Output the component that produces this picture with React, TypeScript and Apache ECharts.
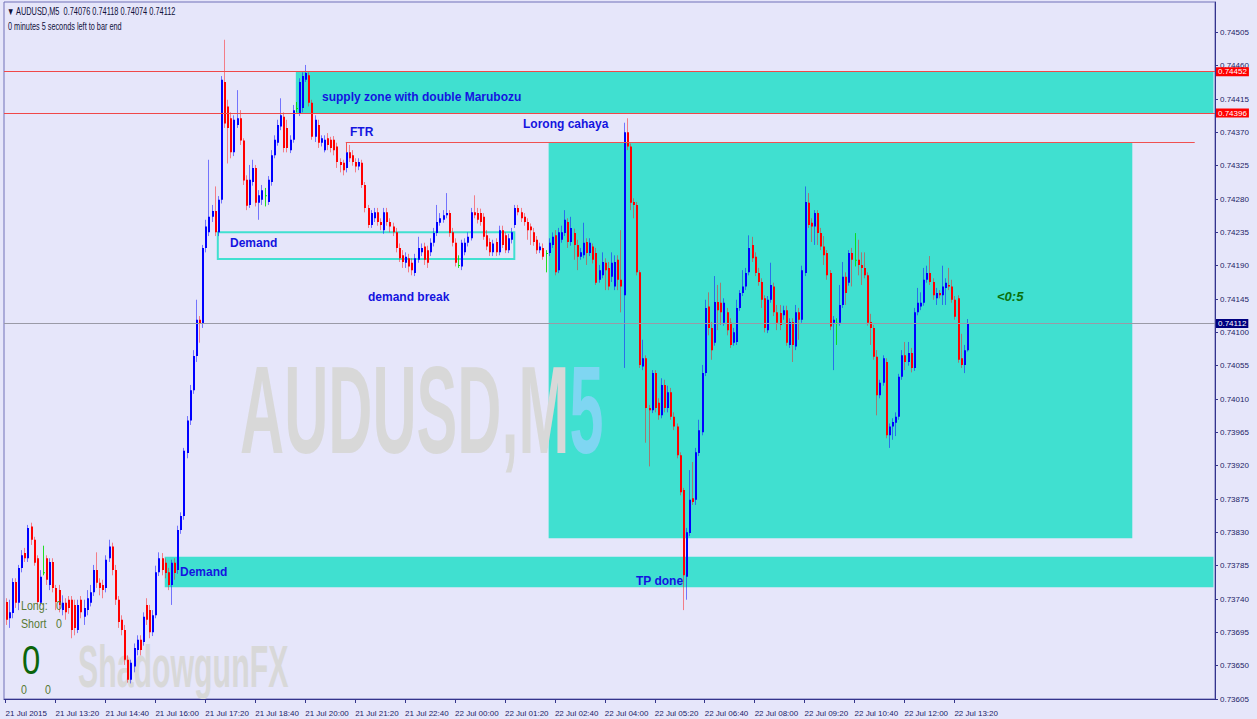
import React, { useEffect, useRef } from 'react';
import * as echarts from 'echarts';

// ---------- data ----------
const tickLabels = [
  '21 Jul 2015', '21 Jul 13:20', '21 Jul 14:40', '21 Jul 16:00', '21 Jul 17:20',
  '21 Jul 18:40', '21 Jul 20:00', '21 Jul 21:20', '21 Jul 22:40', '22 Jul 00:00',
  '22 Jul 01:20', '22 Jul 02:40', '22 Jul 04:00', '22 Jul 05:20', '22 Jul 06:40',
  '22 Jul 08:00', '22 Jul 09:20', '22 Jul 10:40', '22 Jul 12:00', '22 Jul 13:20',
];

// AUDUSD M5 bars in points (1e-5): [open, close, low, high]
const bars_21_1200 = [
  [73736,73712,73705,73741],[73714,73722,73701,73739],[73721,73763,73714,73768],[73763,73735,73728,73768],
  [73735,73782,73725,73786],[73782,73799,73776,73806],[73802,73795,73790,73809],[73795,73836,73790,73840],
  [73838,73820,73813,73843],[73820,73789,73785,73824],[73795,73736,73732,73799],[73735,73770,73731,73779],
  [73776,73776,73772,73812],[73795,73766,73759,73799],[73759,73790,73752,73795],[73790,73755,73749,73795],
  [73755,73736,73725,73759],[73752,73732,73722,73759],[73725,73735,73718,73745],[73735,73722,73712,73741],
  [73739,73728,73720,73744],[73739,73698,73687,73744],[73732,73701,73691,73739],[73698,73732,73694,73739],
  [73739,73722,73714,73744],[73716,73728,73705,73739],[73725,73741,73718,73752],[73735,73749,73730,73759],
  [73749,73779,73744,73786],[73779,73762,73755,73803],[73762,73755,73745,73768],[73759,73752,73741,73766],
];
const bars_21_1440 = [
  [73755,73793,73749,73799],[73795,73811,73790,73820],[73811,73779,73772,73816],[73779,73739,73732,73786],
  [73739,73709,73701,73744],[73712,73698,73691,73718],[73698,73658,73651,73705],[73658,73631,73627,73664],
  [73631,73654,73626,73658],[73649,73674,73641,73680],[73671,73685,73664,73691],[73685,73671,73664,73691],
  [73682,73716,73677,73722],[73732,73712,73705,73741],[73725,73695,73687,73732],[73695,73718,73690,73725],
  [73718,73776,73714,73785],[73776,73795,73771,73803],[73795,73779,73772,73802],[73789,73775,73768,73795],
  [73776,73759,73752,73782],[73759,73789,73732,73793],[73789,73775,73766,73795],[73779,73833,73774,73839],
  [73833,73852,73828,73857],[73852,73940,73847,73944],[73937,73981,73930,73987],[73981,74022,73975,74029],
  [74022,74068,74017,74076],[74068,74117,74060,74144],[74117,74112,74086,74122],[74112,74214,74106,74218],
];
const bars_21_1720 = [
  [74214,74243,74208,74252],[74235,74256,74230,74333],[74256,74264,74249,74272],[74264,74235,74230,74297],
  [74235,74279,74230,74284],[74279,74441,74274,74446],[74438,74382,74376,74495],[74405,74376,74328,74414],
  [74389,74343,74335,74397],[74343,74387,74338,74393],[74380,74389,74376,74427],[74389,74359,74353,74400],
  [74359,74305,74299,74362],[74306,74271,74265,74312],[74272,74306,74268,74326],[74303,74322,74298,74333],
  [74322,74275,74270,74326],[74275,74285,74252,74292],[74279,74292,74272,74299],[74285,74285,74270,74295],
  [74276,74306,74272,74311],[74303,74339,74298,74346],[74339,74360,74335,74366],[74356,74380,74352,74387],
  [74378,74393,74373,74416],[74391,74349,74343,74397],[74376,74349,74343,74387],[74346,74360,74342,74366],
  [74360,74400,74356,74407],[74403,74403,74397,74411],[74396,74438,74392,74443],[74403,74446,74397,74451],
];
const bars_21_2000 = [
  [74441,74450,74438,74461],[74447,74410,74405,74451],[74410,74364,74360,74414],[74364,74387,74357,74393],
  [74380,74356,74349,74387],[74356,74362,74351,74366],[74346,74360,74343,74366],[74362,74353,74346,74369],
  [74360,74349,74343,74364],[74360,74346,74339,74365],[74351,74330,74322,74356],[74330,74326,74316,74335],
  [74329,74319,74312,74333],[74322,74343,74316,74349],[74343,74335,74330,74353],[74339,74330,74325,74346],
  [74330,74324,74316,74335],[74324,74330,74319,74335],[74329,74299,74295,74333],[74299,74268,74262,74303],
  [74268,74245,74241,74272],[74245,74261,74241,74265],[74254,74262,74249,74268],[74262,74249,74244,74268],
  [74249,74245,74238,74254],[74238,74262,74233,74268],[74262,74249,74244,74268],[74249,74243,74235,74254],
  [74243,74235,74230,74248],[74235,74214,74208,74241],[74214,74200,74195,74220],[74204,74195,74187,74211],
];
const bars_21_2240 = [
  [74194,74202,74187,74208],[74200,74189,74181,74206],[74194,74184,74177,74200],[74180,74200,74176,74206],
  [74198,74214,74194,74229],[74208,74214,74203,74220],[74216,74198,74191,74221],[74211,74194,74187,74217],
  [74208,74221,74203,74227],[74221,74234,74216,74241],[74234,74249,74230,74272],[74248,74254,74244,74261],
  [74252,74258,74248,74265],[74258,74261,74254,74288],[74261,74234,74229,74265],[74235,74221,74216,74241],
  [74221,74194,74189,74227],[74191,74191,74187,74204],[74189,74221,74184,74225],[74208,74221,74204,74227],
  [74221,74229,74216,74235],[74227,74262,74224,74268],[74262,74258,74254,74285],[74261,74252,74247,74268],
  [74261,74249,74244,74267],[74256,74229,74225,74261],[74231,74216,74211,74238],[74222,74208,74203,74227],
  [74208,74220,74203,74225],[74222,74208,74203,74227],[74208,74238,74204,74244],[74238,74218,74214,74244],
];
const bars_22_0120 = [
  [74231,74211,74207,74235],[74211,74227,74207,74233],[74225,74235,74220,74241],[74245,74268,74241,74272],
  [74268,74262,74258,74272],[74262,74254,74249,74268],[74256,74249,74244,74261],[74249,74238,74225,74254],
  [74243,74238,74218,74247],[74235,74222,74217,74241],[74225,74211,74206,74230],[74211,74216,74207,74221],
  [74214,74202,74198,74220],[74207,74207,74181,74211],[74207,74221,74203,74227],[74218,74229,74214,74235],
  [74231,74181,74177,74238],[74184,74235,74180,74241],[74225,74235,74221,74244],[74234,74252,74230,74265],
  [74249,74222,74214,74254],[74222,74241,74217,74256],[74234,74218,74198,74240],[74218,74202,74184,74225],
  [74202,74208,74198,74214],[74204,74221,74200,74248],[74222,74207,74191,74227],[74207,74221,74203,74227],
  [74216,74198,74193,74220],[74207,74167,74164,74214],[74171,74184,74167,74191],[74177,74195,74173,74208],
];
const bars_22_0400 = [
  [74194,74184,74157,74200],[74187,74162,74157,74195],[74175,74194,74168,74208],[74162,74195,74157,74204],
  [74198,74171,74157,74204],[74171,74162,74127,74238],[74150,74370,74052,74383],[74370,74351,74346,74389],
  [74351,74275,74265,74355],[74276,74272,74254,74281],[74272,74181,74177,74276],[74181,74056,74052,74184],
  [74054,74065,74049,74090],[74065,73998,73951,74069],[73998,73995,73919,74002],[73995,74045,73991,74049],
  [74045,73998,73992,74049],[74005,73988,73982,74011],[73988,74029,73984,74038],[74029,73998,73992,74036],
  [73998,74019,73992,74028],[74019,73986,73982,74025],[73986,73973,73968,73992],[73973,73934,73930,73977],
  [73934,73884,73880,73938],[73887,73772,73725,73890],[73770,73830,73739,73836],[73829,73874,73825,73914],
  [73876,73871,73867,73925],[73874,73938,73867,73944],[73937,73968,73933,73982],[73965,74045,73961,74056],
];
const bars_22_0640 = [
  [74045,74133,74041,74144],[74135,74106,74096,74154],[74106,74076,74063,74114],[74086,74141,74082,74176],
  [74141,74130,74103,74164],[74140,74127,74110,74167],[74113,74140,74109,74146],[74127,74103,74096,74133],
  [74113,74083,74079,74119],[74086,74100,74082,74106],[74087,74133,74083,74144],[74133,74153,74129,74157],
  [74153,74162,74149,74184],[74162,74180,74157,74187],[74181,74214,74177,74231],[74218,74200,74195,74229],
  [74202,74180,74176,74208],[74180,74168,74163,74187],[74168,74144,74133,74173],[74146,74106,74100,74150],
  [74103,74144,74099,74149],[74144,74164,74140,74194],[74162,74127,74122,74167],[74127,74113,74103,74137],
  [74126,74110,74103,74137],[74123,74130,74117,74136],[74130,74086,74082,74136],[74083,74114,74079,74119],
  [74114,74083,74060,74119],[74081,74127,74076,74137],[74127,74117,74090,74133],[74117,74184,74113,74190],
];
const bars_22_0920 = [
  [74180,74276,74176,74297],[74275,74245,74241,74288],[74248,74243,74222,74254],[74243,74261,74218,74265],
  [74261,74234,74218,74265],[74234,74216,74211,74241],[74216,74204,74191,74230],[74207,74177,74171,74211],
  [74180,74108,74103,74184],[74113,74117,74049,74122],[74113,74113,74083,74119],[74113,74137,74109,74164],
  [74137,74175,74133,74195],[74175,74153,74137,74181],[74167,74207,74163,74211],[74207,74198,74162,74214],
  [74198,74198,74189,74234],[74198,74191,74177,74225],[74191,74187,74164,74208],[74187,74177,74173,74208],
  [74177,74113,74109,74181],[74114,74106,74083,74125],[74106,74067,74063,74110],[74067,74015,73988,74076],
  [74015,74032,74011,74036],[74032,74065,74028,74069],[74060,73961,73957,74065],[73961,73973,73944,73977],
  [73973,73979,73955,73984],[73978,73986,73960,73992],[73986,74040,73982,74044],[74040,74069,74036,74076],
];
const bars_22_1200 = [
  [74069,74060,74049,74087],[74060,74072,74055,74087],[74072,74052,74046,74079],[74052,74127,74048,74133],
  [74127,74140,74123,74160],[74135,74140,74130,74154],[74140,74171,74136,74187],[74171,74180,74167,74190],
  [74180,74168,74164,74203],[74168,74150,74144,74173],[74146,74153,74137,74160],[74153,74150,74146,74157],
  [74150,74162,74137,74190],[74160,74167,74137,74173],[74164,74162,74157,74187],[74162,74144,74140,74171],
  [74144,74121,74117,74149],[74146,74063,74059,74150],[74065,74056,74052,74098],[74056,74076,74045,74083],
  [74076,74112,74074,74118],
];

// chart objects (prices) and their anchor bars
const supplyZone = [0.74452, 0.74396];
const supplyStartBar = 93;
const tradeBox = [0.74356, 0.73822];
const tradeBoxBars = [174, 361];
const lowerDemand = [0.73797, 0.73756];
const lowerDemandStartBar = 51;
const demandBox = [0.74235, 0.74199];
const demandBoxBars = [68, 163];
const ftrPrice = 0.74356;
const ftrLow = 0.74343;
const ftrBars = [109, 381];
const lastPrice = 0.74112;
const lastBar = { open: '0.74076', high: '0.74118', low: '0.74074', close: '0.74112' };

// ---------- chart ----------
const bars = [
  ...bars_21_1200, ...bars_21_1440, ...bars_21_1720, ...bars_21_2000, ...bars_21_2240,
  ...bars_22_0120, ...bars_22_0400, ...bars_22_0640, ...bars_22_0920, ...bars_22_1200,
];
const SLOTS = 388;
const LAST_SLOT = SLOTS - 1;
const categories = Array.from({ length: SLOTS }, (_, i) => String(i));
const candleData = bars.map((b, i) => [i, b[0] / 1e5, b[1] / 1e5, b[2] / 1e5, b[3] / 1e5]);

const SANS = '"Liberation Sans", Arial, sans-serif';
const AXIS = '#34348c';
const LABEL = '#1c1c66';
const TEAL = '#40E0D0';
const ANNOT = '#1414e0';

const renderCandle = (params: any, api: any) => {
  const i = api.value(0);
  const o = api.value(1);
  const c = api.value(2);
  const l = api.value(3);
  const h = api.value(4);
  const pO = api.coord([i, o]);
  const pC = api.coord([i, c]);
  const pL = api.coord([i, l]);
  const pH = api.coord([i, h]);
  const cx = Math.round(pO[0]);
  const doji = o === c;
  const bull = c > o;
  const body = doji ? '#00e600' : bull ? '#0000ff' : '#ff0000';
  const wick = doji ? 'rgba(0,220,0,0.85)' : bull ? 'rgba(20,20,255,0.55)' : 'rgba(255,20,20,0.5)';
  const top = Math.min(pO[1], pC[1]);
  const hh = Math.max(1, Math.abs(pO[1] - pC[1]));
  return {
    type: 'group',
    children: [
      { type: 'line', shape: { x1: cx + 0.5, y1: pH[1], x2: cx + 0.5, y2: pL[1] }, style: { stroke: wick, lineWidth: 1 } },
      { type: 'rect', shape: { x: cx, y: top, width: 2, height: hh }, style: { fill: body } },
    ],
  };
};

const badge = (bg: string, price: number) => ({
  show: true,
  position: 'end',
  distance: 1,
  formatter: price.toFixed(5),
  color: '#ffffff',
  backgroundColor: bg,
  fontSize: 8,
  lineHeight: 9,
  fontFamily: SANS,
  padding: [0, 2, 0, 2],
});

const txt = (text: string, x: number, y: number, extra: any = {}, scaleX = 1, z = 6) => ({
  type: 'text',
  x,
  y,
  z,
  scaleX,
  silent: true,
  style: {
    text,
    fill: ANNOT,
    fontSize: 12,
    fontWeight: 'bold',
    fontFamily: SANS,
    align: 'left',
    verticalAlign: 'middle',
    ...extra,
  },
});

const small = { fontSize: 10, fontWeight: 'normal', fill: '#10103a' };
const olive = { fill: '#587a34', fontSize: 13, fontWeight: 'normal' };

const option: any = {
  animation: false,
  backgroundColor: '#E6E6FA',
  grid: { left: 4, right: 42, top: 2, bottom: 20, show: true, borderColor: '#7070b8', borderWidth: 1, containLabel: false },
  xAxis: {
    type: 'category',
    data: categories,
    boundaryGap: true,
    axisLine: { show: true, lineStyle: { color: AXIS, width: 1 } },
    axisTick: {
      show: true,
      alignWithLabel: true,
      length: 4,
      interval: (i: number) => i % 16 === 0 && i <= bars.length - 1,
      lineStyle: { color: AXIS },
    },
    axisLabel: {
      interval: (i: number) => i % 16 === 0 && i <= bars.length - 1,
      formatter: (_v: string, i: number) => tickLabels[i / 16] ?? '',
      align: 'left',
      fontSize: 8,
      fontFamily: SANS,
      color: LABEL,
      margin: 10,
    },
    splitLine: { show: false },
  },
  yAxis: {
    type: 'value',
    position: 'right',
    min: 0.73605,
    max: 0.74546,
    interval: 0.00045,
    scale: true,
    axisLine: { show: true, lineStyle: { color: AXIS, width: 1 } },
    axisTick: { show: true, length: 3, lineStyle: { color: AXIS } },
    axisLabel: {
      formatter: (v: number) => v.toFixed(5),
      fontSize: 8,
      fontFamily: SANS,
      color: LABEL,
      margin: 5,
      showMaxLabel: false,
    },
    splitLine: { show: false },
  },
  series: [
    {
      type: 'line',
      data: [],
      z: 1,
      silent: true,
      markArea: {
        silent: true,
        label: { show: false },
        itemStyle: { color: TEAL, opacity: 1 },
        data: [
          [{ xAxis: supplyStartBar, yAxis: supplyZone[0] }, { xAxis: LAST_SLOT, yAxis: supplyZone[1] }],
          [{ xAxis: tradeBoxBars[0], yAxis: tradeBox[0] }, { xAxis: tradeBoxBars[1], yAxis: tradeBox[1] }],
          [{ xAxis: lowerDemandStartBar, yAxis: lowerDemand[0] }, { xAxis: LAST_SLOT, yAxis: lowerDemand[1] }],
          [
            { xAxis: demandBoxBars[0], yAxis: demandBox[0], itemStyle: { color: 'rgba(0,0,0,0)', borderColor: TEAL, borderWidth: 2 } },
            { xAxis: demandBoxBars[1], yAxis: demandBox[1] },
          ],
        ],
      },
      markLine: {
        silent: true,
        symbol: ['none', 'none'],
        precision: 5,
        lineStyle: { type: 'solid', width: 1 },
        data: [
          { yAxis: supplyZone[0], lineStyle: { color: '#f04848', type: 'solid', width: 1 }, label: badge('#ff0000', supplyZone[0]) },
          { yAxis: supplyZone[1], lineStyle: { color: '#f04848', type: 'solid', width: 1 }, label: badge('#ff0000', supplyZone[1]) },
          { yAxis: lastPrice, lineStyle: { color: '#9a9aa6', type: 'solid', width: 1 }, label: badge('#000080', lastPrice) },
          [
            { xAxis: ftrBars[0], yAxis: ftrPrice, lineStyle: { color: '#f05050', type: 'solid', width: 1 }, label: { show: false } },
            { xAxis: ftrBars[1], yAxis: ftrPrice },
          ],
          [
            { xAxis: ftrBars[0], yAxis: ftrPrice, lineStyle: { color: '#f05050', type: 'solid', width: 1 }, label: { show: false } },
            { xAxis: ftrBars[0], yAxis: ftrLow },
          ],
        ],
      },
    },
    {
      type: 'custom',
      z: 3,
      renderItem: renderCandle,
      data: candleData,
      encode: { x: 0, y: [1, 2, 3, 4] },
      silent: true,
    },
  ],
  graphic: {
    elements: [
      {
        type: 'text', x: 240, y: 410, z: 2, silent: true, scaleX: 0.489,
        style: {
          text: '{a|AUDUSD,M}{b|5}',
          align: 'left', verticalAlign: 'middle',
          rich: {
            a: { fill: '#d8d8d8', fontSize: 125, fontWeight: 'bold', fontFamily: SANS },
            b: { fill: '#7fd6f2', fontSize: 125, fontWeight: 'bold', fontFamily: SANS },
          },
        },
      },
      {
        type: 'text', x: 78, y: 666, z: 2, silent: true, scaleX: 0.505,
        style: { text: 'ShadowgunFX', fill: '#d8d8d8', fontSize: 60, fontWeight: 'bold', fontFamily: SANS, align: 'left', verticalAlign: 'middle' },
      },
      txt(`\u25BC AUDUSD,M5  ${lastBar.open} ${lastBar.high} ${lastBar.low} ${lastBar.close}`, 7, 12, small, 0.74),
      txt('0 minutes 5 seconds left to bar end', 8, 27, small, 0.73),
      txt('supply zone with double Marubozu', 322, 97),
      txt('FTR', 350, 132),
      txt('Lorong cahaya', 523, 124),
      txt('Demand', 230, 243),
      txt('demand break', 368, 297),
      txt('Demand', 180, 572),
      txt('TP done', 636, 581),
      txt('<0:5', 997, 296, { fill: '#0a700a', fontSize: 13, fontStyle: 'italic' }),
      txt('Long:', 21, 606, olive, 0.82),
      txt('0', 56, 606, olive, 0.82),
      txt('Short', 21, 624, olive, 0.82),
      txt('0', 56, 624, olive, 0.82),
      txt('0', 22, 660, { fill: '#0b650b', fontSize: 40, fontWeight: 'normal' }, 0.82),
      txt('0', 21, 690, olive, 0.82),
      txt('0', 45, 690, olive, 0.82),
    ],
  },
};

export default function App() {
  const ref = useRef<HTMLDivElement>(null);
  useEffect(() => {
    if (!ref.current) return;
    const chart = echarts.init(ref.current, undefined, { renderer: 'svg' });
    chart.setOption(option);
    return () => chart.dispose();
  }, []);
  return <div ref={ref} style={{ position: 'fixed', left: 0, top: 0, width: 1257, height: 719 }} />;
}
